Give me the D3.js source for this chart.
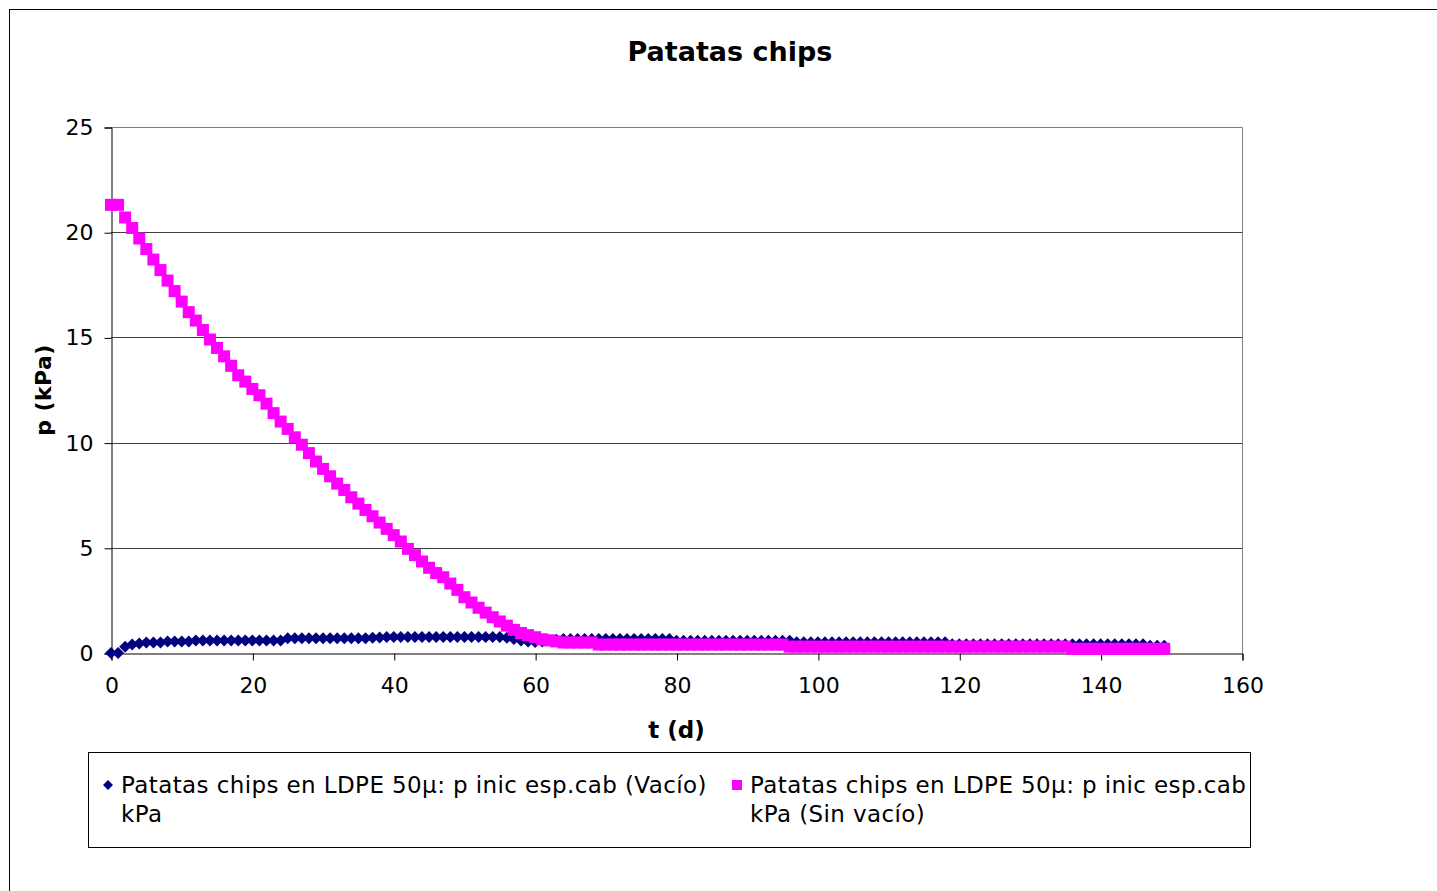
<!DOCTYPE html>
<html lang="es">
    <head>
        <meta charset="utf-8">
        <title>Patatas chips</title>
        <script type="text/javascript" src="https://d3js.org/d3.v7.min.js"></script>
        <style type="text/css">
            body { margin: 0; background: #fff; }
            text { font-family: "DejaVu Sans", Verdana, sans-serif; fill: #000; }
        </style>
    </head>
    <body>
        <div id="chart"></div>
        <script type="text/javascript">
            // days (t, d)
            const days = [
                0, 1, 2, 3, 4, 5, 6, 7, 8, 9, 10, 11, 12, 13, 14, 15, 16, 17, 18, 19,
                20, 21, 22, 23, 24, 25, 26, 27, 28, 29, 30, 31, 32, 33, 34, 35, 36, 37, 38, 39,
                40, 41, 42, 43, 44, 45, 46, 47, 48, 49, 50, 51, 52, 53, 54, 55, 56, 57, 58, 59,
                60, 61, 62, 63, 64, 65, 66, 67, 68, 69, 70, 71, 72, 73, 74, 75, 76, 77, 78, 79,
                80, 81, 82, 83, 84, 85, 86, 87, 88, 89, 90, 91, 92, 93, 94, 95, 96, 97, 98, 99,
                100, 101, 102, 103, 104, 105, 106, 107, 108, 109, 110, 111, 112, 113, 114, 115, 116, 117, 118, 119,
                120, 121, 122, 123, 124, 125, 126, 127, 128, 129, 130, 131, 132, 133, 134, 135, 136, 137, 138, 139,
                140, 141, 142, 143, 144, 145, 146, 147, 148, 149
            ];

            // p (kPa), envasado al vacío
            const pVacio = [
                0, 0, 0.3, 0.4, 0.45, 0.5, 0.5, 0.5, 0.55, 0.55,
                0.55, 0.55, 0.6, 0.6, 0.6, 0.6, 0.6, 0.6, 0.6, 0.6,
                0.6, 0.6, 0.6, 0.6, 0.6, 0.7, 0.7, 0.7, 0.7, 0.7,
                0.7, 0.7, 0.7, 0.7, 0.7, 0.7, 0.7, 0.72, 0.74, 0.76,
                0.76, 0.76, 0.76, 0.76, 0.76, 0.76, 0.76, 0.76, 0.76, 0.76,
                0.76, 0.76, 0.76, 0.76, 0.76, 0.76, 0.72, 0.66, 0.6, 0.55,
                0.52, 0.55, 0.6, 0.63, 0.66, 0.66, 0.66, 0.66, 0.66, 0.66,
                0.66, 0.66, 0.66, 0.66, 0.66, 0.66, 0.66, 0.66, 0.66, 0.66,
                0.58, 0.58, 0.58, 0.58, 0.58, 0.58, 0.58, 0.58, 0.58, 0.58,
                0.58, 0.58, 0.58, 0.58, 0.58, 0.58, 0.58, 0.51, 0.51, 0.51,
                0.51, 0.51, 0.51, 0.51, 0.51, 0.51, 0.51, 0.51, 0.51, 0.51,
                0.51, 0.51, 0.51, 0.51, 0.51, 0.51, 0.51, 0.51, 0.51, 0.42,
                0.42, 0.42, 0.42, 0.42, 0.42, 0.42, 0.42, 0.42, 0.42, 0.42,
                0.42, 0.42, 0.42, 0.42, 0.42, 0.42, 0.42, 0.42, 0.42, 0.42,
                0.42, 0.42, 0.42, 0.42, 0.42, 0.42, 0.42, 0.34, 0.34, 0.34
            ];

            // p (kPa), sin vacío
            const pSinVacio = [
                21.3, 21.3, 20.7, 20.2, 19.7, 19.2, 18.7, 18.2, 17.7, 17.2,
                16.7, 16.2, 15.8, 15.35, 14.9, 14.5, 14.1, 13.65, 13.2, 12.9,
                12.55, 12.25, 11.85, 11.4, 11.0, 10.65, 10.25, 9.9, 9.5, 9.1,
                8.75, 8.4, 8.05, 7.75, 7.4, 7.1, 6.8, 6.5, 6.2, 5.9,
                5.6, 5.3, 4.95, 4.65, 4.35, 4.05, 3.8, 3.6, 3.3, 3.0,
                2.65, 2.4, 2.15, 1.92, 1.7, 1.5, 1.3, 1.1, 0.95, 0.85,
                0.75, 0.65, 0.6, 0.55, 0.5, 0.5, 0.5, 0.5, 0.5, 0.4,
                0.4, 0.4, 0.4, 0.4, 0.4, 0.4, 0.4, 0.4, 0.4, 0.4,
                0.4, 0.4, 0.4, 0.4, 0.4, 0.4, 0.4, 0.4, 0.4, 0.4,
                0.4, 0.4, 0.4, 0.4, 0.4, 0.4, 0.3, 0.3, 0.3, 0.3,
                0.3, 0.3, 0.3, 0.3, 0.3, 0.3, 0.3, 0.3, 0.3, 0.3,
                0.3, 0.3, 0.3, 0.3, 0.3, 0.3, 0.3, 0.3, 0.3, 0.3,
                0.3, 0.3, 0.3, 0.3, 0.3, 0.3, 0.3, 0.3, 0.3, 0.3,
                0.3, 0.3, 0.3, 0.3, 0.3, 0.3, 0.2, 0.2, 0.2, 0.2,
                0.2, 0.2, 0.2, 0.2, 0.2, 0.2, 0.2, 0.2, 0.2, 0.2
            ];

            const xTicks = [0, 20, 40, 60, 80, 100, 120, 140, 160];
            const yTicks = [0, 5, 10, 15, 20, 25];
            const seriesNames = [
                ["Patatas chips en LDPE 50µ: p inic esp.cab (Vacío)", "kPa"],
                ["Patatas chips en LDPE 50µ: p inic esp.cab", "kPa (Sin vacío)"]
            ];
            const seriesColors = ["#000080", "#ff00ff"];

            const W = 1437, H = 891;
            const plot = {left: 111, top: 127, right: 1242, bottom: 653};

            const svg = d3.select("#chart").append("svg")
                .attr("width", W)
                .attr("height", H);

            // outer chart frame (runs off the canvas on the right/bottom)
            svg.append("rect")
                .attr("x", 9.5).attr("y", 9.5)
                .attr("width", W + 20).attr("height", H + 20)
                .attr("fill", "#fff").attr("stroke", "#000");

            const x = d3.scaleLinear().domain([0, 160]).range([plot.left, plot.right]);
            const y = d3.scaleLinear().domain([0, 25]).range([plot.bottom, plot.top]);

            // grid lines
            svg.append("g")
                .selectAll("line")
                .data(yTicks.filter(d => d > 0 && d < 25))
                .enter().append("line")
                .attr("x1", plot.left).attr("x2", plot.right)
                .attr("y1", d => Math.round(y(d)) + 0.5)
                .attr("y2", d => Math.round(y(d)) + 0.5)
                .attr("stroke", "#404040");

            // plot area frame top/right
            svg.append("path")
                .attr("d", `M${plot.left},${plot.top + 0.5}H${plot.right + 0.5}V${plot.bottom}`)
                .attr("fill", "none")
                .attr("stroke", "#808080");

            // axes
            const yAxis = d3.axisLeft(y).tickValues(yTicks).tickSize(7).tickPadding(11);
            const xAxis = d3.axisBottom(x).tickValues(xTicks).tickSize(7).tickPadding(17);

            const gy = svg.append("g")
                .attr("transform", `translate(${plot.left + 0.5},0.5)`)
                .call(yAxis);
            const gx = svg.append("g")
                .attr("transform", `translate(0.5,${plot.bottom + 0.5})`)
                .call(xAxis);

            [gx, gy].forEach(g => {
                g.select(".domain").attr("stroke", "#000");
                g.selectAll(".tick line").attr("stroke", "#000");
                g.selectAll(".tick text")
                    .attr("font-family", "DejaVu Sans")
                    .attr("font-size", 22)
                    .attr("fill", "#000");
            });

            // series: vacuum (diamonds) below, no vacuum (squares) on top
            const diamond = 6;
            svg.append("g")
                .selectAll("path")
                .data(days.map((d, i) => [d, pVacio[i]]))
                .enter().append("path")
                .attr("d", d => {
                    const cx = x(d[0]), cy = y(d[1]);
                    return `M${cx},${cy - diamond}L${cx + diamond},${cy}L${cx},${cy + diamond}L${cx - diamond},${cy}Z`;
                })
                .attr("fill", seriesColors[0]);

            const sq = 12;
            svg.append("g")
                .selectAll("rect")
                .data(days.map((d, i) => [d, pSinVacio[i]]))
                .enter().append("rect")
                .attr("x", d => x(d[0]) - sq / 2)
                .attr("y", d => y(d[1]) - sq / 2)
                .attr("width", sq)
                .attr("height", sq)
                .attr("fill", seriesColors[1]);

            // titles
            svg.append("text")
                .attr("x", 730).attr("y", 61)
                .attr("text-anchor", "middle")
                .attr("font-weight", "bold")
                .attr("font-size", 27)
                .text("Patatas chips");

            svg.append("text")
                .attr("x", (plot.left + plot.right) / 2).attr("y", 738)
                .attr("text-anchor", "middle")
                .attr("font-weight", "bold")
                .attr("font-size", 23)
                .text("t (d)");

            svg.append("text")
                .attr("transform", `translate(51,${(plot.top + plot.bottom) / 2}) rotate(-90)`)
                .attr("text-anchor", "middle")
                .attr("font-weight", "bold")
                .attr("font-size", 22)
                .attr("letter-spacing", 0.4)
                .text("p (kPa)");

            // legend
            const legend = svg.append("g");
            legend.append("rect")
                .attr("x", 88.5).attr("y", 752.5)
                .attr("width", 1162).attr("height", 95)
                .attr("fill", "#fff").attr("stroke", "#000");

            const legendX = [108, 737];
            seriesNames.forEach((lines, i) => {
                const lx = legendX[i], ly = 785;
                if (i === 0) {
                    const r = 5;
                    legend.append("path")
                        .attr("d", `M${lx},${ly - r}L${lx + r},${ly}L${lx},${ly + r}L${lx - r},${ly}Z`)
                        .attr("fill", seriesColors[i]);
                } else {
                    legend.append("rect")
                        .attr("x", lx - 5).attr("y", ly - 5)
                        .attr("width", 10).attr("height", 10)
                        .attr("fill", seriesColors[i]);
                }
                const t = legend.append("text")
                    .attr("x", lx + 13).attr("y", 793)
                    .attr("font-size", 23)
                    .attr("letter-spacing", 0.4);
                lines.forEach((line, j) => {
                    t.append("tspan")
                        .attr("x", lx + 13)
                        .attr("dy", j === 0 ? 0 : 29)
                        .text(line);
                });
            });
        </script>
    </body>
</html>
